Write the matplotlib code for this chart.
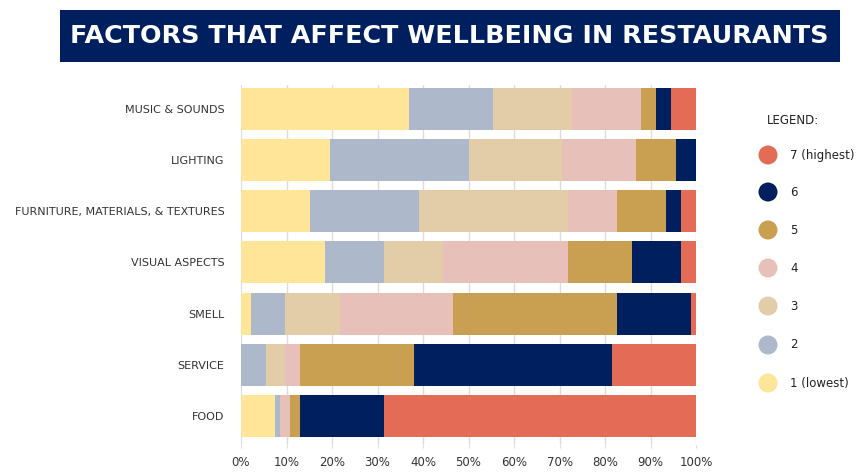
import numpy as np
import matplotlib.pyplot as plt
from matplotlib.patches import Rectangle, Ellipse

# Data (percent of respondents per rating)
factors = ["MUSIC & SOUNDS", "LIGHTING", "FURNITURE, MATERIALS, & TEXTURES",
           "VISUAL ASPECTS", "SMELL", "SERVICE", "FOOD"]
r1 = [36.9, 19.5, 15.1, 18.4, 2.1, 0.0, 7.5]
r2 = [18.5, 30.5, 24.0, 13.0, 7.6, 5.4, 1.1]
r3 = [17.4, 20.6, 32.7, 13.1, 12.0, 4.3, 0.0]
r4 = [15.2, 16.3, 10.8, 27.3, 25.0, 3.3, 2.1]
r5 = [3.3, 8.7, 10.9, 14.1, 35.9, 25.0, 2.3]
r6 = [3.3, 4.3, 3.3, 10.9, 16.4, 43.5, 18.4]
r7 = [5.4, 0.0, 3.2, 3.2, 1.0, 18.5, 68.6]

ratings = [r1, r2, r3, r4, r5, r6, r7]
rating_labels = ["1 (lowest)", "2", "3", "4", "5", "6", "7 (highest)"]
colors = ["#FEE597", "#ADB8CA", "#E3CDA8", "#E6C0B9", "#C9A052", "#001F5F", "#E46C57"]
ticks = [0, 10, 20, 30, 40, 50, 60, 70, 80, 90, 100]

W, H = 862, 472
fig = plt.figure(figsize=(W / 100, H / 100), dpi=100)

# ----------------------------
# Title banner
# ----------------------------
fig.patches.append(Rectangle((60 / W, 1 - 62 / H), 780 / W, 52 / H,
                             transform=fig.transFigure, facecolor="#001F5F",
                             edgecolor="none"))
fig.text(449 / W, 1 - 36 / H, "FACTORS THAT AFFECT WELLBEING IN RESTAURANTS",
         color="white", fontsize=18.3, fontweight="bold", ha="center", va="center")

# ----------------------------
# Stacked bars
# ----------------------------
ax = fig.add_axes([241 / W, 1 - 445 / H, 455 / W, 360 / H])
y = np.arange(len(factors))[::-1]
left = np.zeros(len(factors))
for vals, c in zip(ratings, colors):
    vals = np.array(vals)
    ax.barh(y, vals, left=left, height=0.82, color=c, edgecolor="none", zorder=2)
    left += vals

ax.set_xlim(0, 100)
ax.set_ylim(-0.57, 6.47)
ax.set_xticks(ticks)
ax.set_xticklabels([f"{t}%" for t in ticks], fontsize=8.5, color="#333333")
ax.set_yticks(y)
ax.set_yticklabels(factors, fontsize=8.0, color="#333333")
ax.tick_params(axis="y", length=0, pad=12)
ax.tick_params(axis="x", length=2, color="#dddddd", pad=6)
ax.grid(axis="x", color="#dddddd", linewidth=1, zorder=0)
for s in ax.spines.values():
    s.set_visible(False)

# ----------------------------
# Legend
# ----------------------------
fig.text(767 / W, 1 - 120 / H, "LEGEND:", fontsize=8.5, color="#222222",
         ha="left", va="center")
ys = [383, 345, 306, 268, 230, 192, 155]
for lab, c, yy in zip(rating_labels, colors, ys):
    fig.patches.append(Ellipse((768 / W, 1 - yy / H), 19 / W, 19 / H,
                               transform=fig.transFigure, facecolor=c,
                               edgecolor="none"))
    fig.text(790 / W, 1 - yy / H, lab, fontsize=8.5, color="#222222",
             ha="left", va="center")

fig.savefig("out.png", dpi=100)
